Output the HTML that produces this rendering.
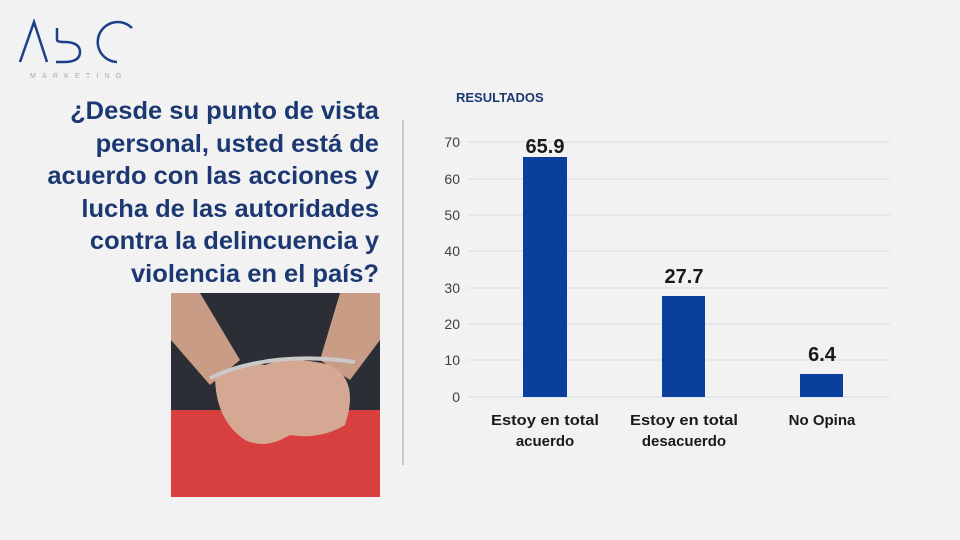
<!DOCTYPE html>
<html><head><meta charset="utf-8"><style>
body{margin:0;width:960px;height:540px;background:#f2f2f2;position:relative;overflow:hidden;font-family:"Liberation Sans",sans-serif}
.t{position:absolute;right:581px;top:95px;width:420px;text-align:right;font-weight:bold;font-size:25px;line-height:32.6px;color:#1c3873;transform:scaleX(1.02);transform-origin:right top;white-space:nowrap}
</style></head><body>
<svg width="960" height="540" style="position:absolute;left:0;top:0">
<g fill="none" stroke="#1c3f8a" stroke-width="2.5">
<path d="M20 62 L34 22 L47 62"/>
<path d="M57 28 V40 Q57 42 64 42 Q80 42 80 52 Q80 62 64 62 H56"/>
<path d="M132 28 A20 20 0 1 0 117 62"/>
</g>
<text x="30" y="78" font-size="7" letter-spacing="6.2" fill="#a8a8a8">MARKETING</text>
<line x1="403" y1="120" x2="403" y2="465" stroke="#c8c8c8" stroke-width="2"/>
<rect x="171" y="293" width="209" height="204" fill="#2b2e34"/>
<rect x="171" y="410" width="209" height="87" fill="#d8403f"/>
<path d="M171 293 L200 293 L240 360 L210 385 L171 340Z" fill="#c99c86"/>
<path d="M340 293 L380 293 L380 340 L350 380 L320 360Z" fill="#c99c86"/>
<path d="M215 375 Q240 360 265 365 Q290 355 330 365 Q360 380 345 425 Q320 440 290 435 Q265 450 245 440 Q215 420 215 375Z" fill="#d4a893"/>
<path d="M210 378 Q270 350 355 362" stroke="#c9c9c9" stroke-width="4" fill="none"/>
<g stroke="#d6dde8" stroke-width="1">
<line x1="468" y1="142" x2="890" y2="142"/><line x1="468" y1="179" x2="890" y2="179"/>
<line x1="468" y1="215" x2="890" y2="215"/><line x1="468" y1="251" x2="890" y2="251"/>
<line x1="468" y1="288" x2="890" y2="288"/><line x1="468" y1="324" x2="890" y2="324"/>
<line x1="468" y1="360" x2="890" y2="360"/><line x1="468" y1="397" x2="890" y2="397"/>
</g>
<g font-size="14" fill="#404040" text-anchor="end">
<text x="460" y="147">70</text><text x="460" y="184">60</text><text x="460" y="220">50</text>
<text x="460" y="256">40</text><text x="460" y="293">30</text><text x="460" y="329">20</text>
<text x="460" y="365">10</text><text x="460" y="402">0</text>
</g>
<g fill="#0a3f9c">
<rect x="523" y="157" width="44" height="240"/>
<rect x="662" y="296" width="43" height="101"/>
<rect x="800" y="374" width="43" height="23"/>
</g>
<g font-size="20" font-weight="bold" fill="#1a1a1a" text-anchor="middle">
<text x="545" y="153">65.9</text><text x="684" y="283">27.7</text><text x="822" y="361">6.4</text>
</g>
<g font-size="15" font-weight="bold" fill="#1a1a1a" text-anchor="middle">
<text x="545" y="425" textLength="108" lengthAdjust="spacingAndGlyphs">Estoy en total</text><text x="545" y="446">acuerdo</text>
<text x="684" y="425" textLength="108" lengthAdjust="spacingAndGlyphs">Estoy en total</text><text x="684" y="446">desacuerdo</text>
<text x="822" y="425">No Opina</text>
</g>
<text x="456" y="102" font-size="13" font-weight="bold" fill="#1c3873">RESULTADOS</text>
</svg>
<div class="t">¿Desde su punto de vista<br>personal, usted está de<br>acuerdo con las acciones y<br>lucha de las autoridades<br>contra la delincuencia y<br>violencia en el país?</div>
</body></html>
